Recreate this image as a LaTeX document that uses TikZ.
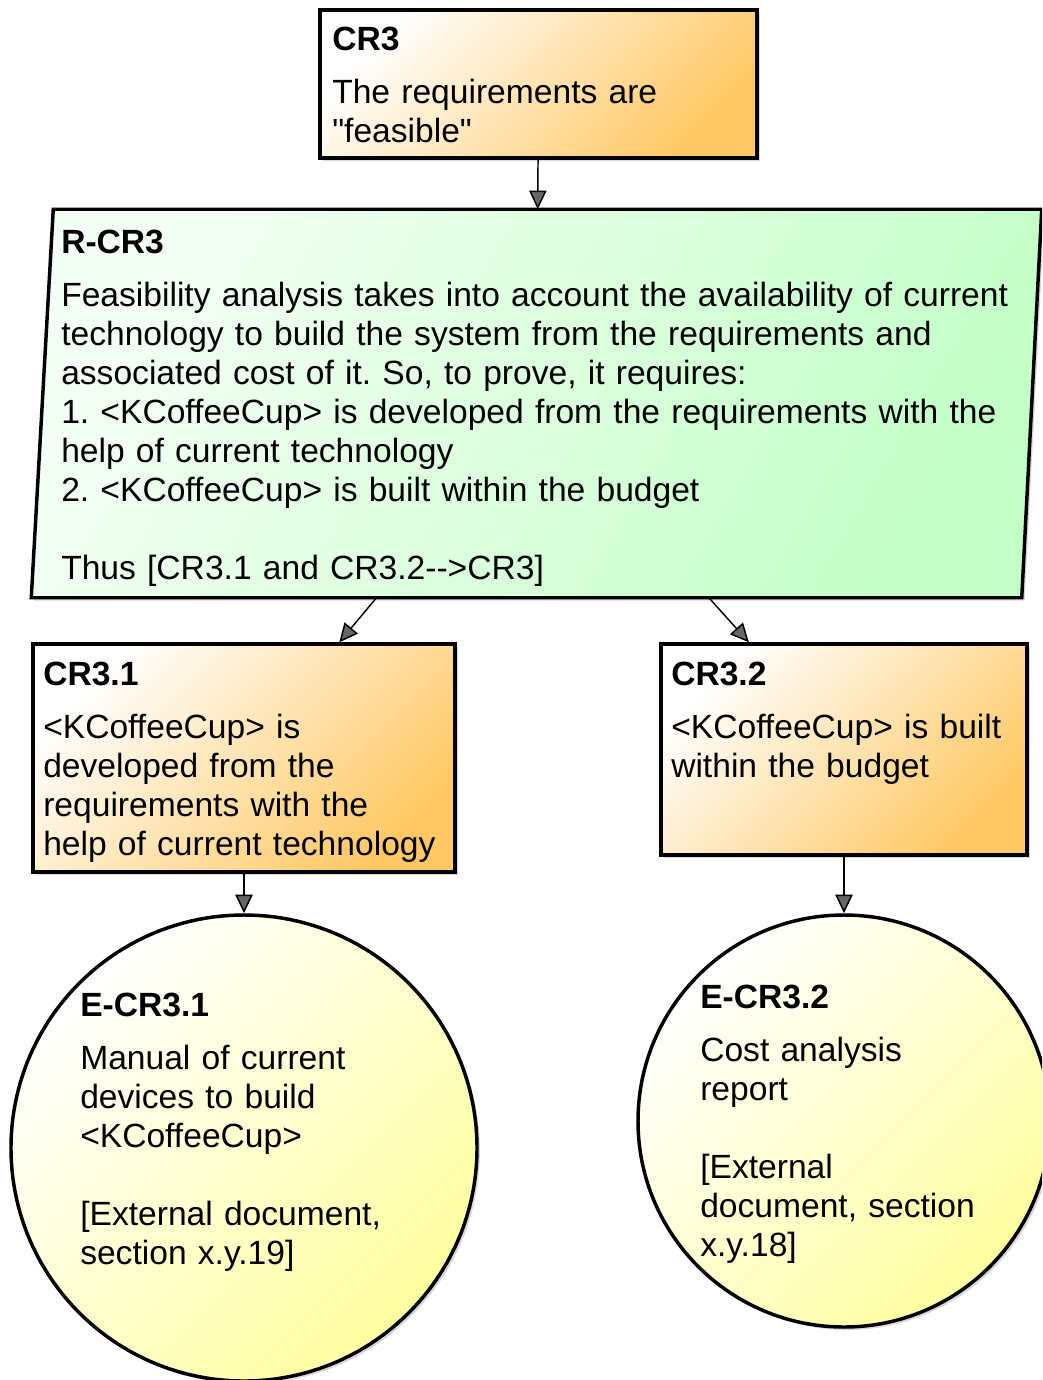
\documentclass[tikz,border=0pt]{standalone}
\usepackage{fontspec}
\setmainfont{Liberation Sans}
\usetikzlibrary{arrows.meta,shadows}
\definecolor{claimorange}{RGB}{255,200,100}
\definecolor{strategygreen}{RGB}{196,255,200}
\definecolor{evidenceyellow}{RGB}{255,255,160}
\tikzset{
	box/.style={draw, line width=2.6pt, inner sep=0pt, drop shadow={shadow xshift=2.2pt, shadow yshift=-2.2pt, fill=black!30}},
	claim/.style={box, rectangle, left color=white, right color=claimorange, shading angle=45},
	evidence/.style={box, circle, left color=white, right color=evidenceyellow, shading angle=45},
	strategy/.style={box, left color=strategygreen!20, right color=strategygreen, shading angle=60},
	label/.style={anchor=base west, inner sep=0pt, text width=760pt, align=left, font=\fontsize{25.2pt}{29.25pt}\selectfont},
	link/.style={line width=1.1pt, -{Triangle[length=14pt, width=13pt, fill=black!60]}}
}
\frenchspacing

\begin{document}
\begin{tikzpicture}[x=0.75pt, y=-0.75pt]
		%%%%% START %%%%%
		\clip (0, 0) rectangle (1042, 1380);
		\useasboundingbox (0, 0) rectangle (1042, 1380);
		
		% claims
		\node[claim, minimum width=327.75pt, minimum height=111pt] (cr3) at (538.5, 84) {};
		\node[claim, minimum width=316.5pt, minimum height=171pt] (cr31) at (244, 758) {};
		\node[claim, minimum width=274.5pt, minimum height=158.25pt] (cr32) at (844, 749.5) {};
		
		% strategy
		\node[minimum width=755.25pt, minimum height=288.75pt, inner sep=0pt, outer sep=1.3pt] (rcr3) at (536.5, 403.5) {};
		\path[strategy] ([xshift=16.5pt]rcr3.north west) -- (rcr3.north east) -- ([xshift=-15pt]rcr3.south east) -- (rcr3.south west) -- cycle;
		
		% evidence
		\node[evidence, minimum size=349.5pt] (ecr31) at (244, 1148) {};
		\node[evidence, minimum size=309pt] (ecr32) at (844, 1121) {};
		
		% texts
		\node[label] (cr3-txt) at (332, 51) {\textbf{CR3}\\[10.5pt]
			The requirements are\\
			\textquotedbl feasible\textquotedbl};
		\node[label] (rcr3-txt) at (61, 253) {\textbf{R-CR3}\\[10.5pt]
			Feasibility analysis takes into account the availability of current\\
			technology to build the system from the requirements and\\
			associated cost of it. So, to prove, it requires:\\
			1. <KCoffeeCup> is developed from the requirements with the\\
			help of current technology\\
			2. <KCoffeeCup> is built within the budget\\[29.25pt]
			Thus [CR3.1 and CR3.2-{}->CR3]};
		\node[label] (cr31-txt) at (43, 685) {\textbf{CR3.1}\\[10.5pt]
			<KCoffeeCup> is\\
			developed from the\\
			requirements with the\\
			help of current technology};
		\node[label] (cr32-txt) at (671, 685) {\textbf{CR3.2}\\[10.5pt]
			<KCoffeeCup> is built\\
			within the budget};
		\node[label] (ecr31-txt) at (80, 1016) {\textbf{E-CR3.1}\\[10.5pt]
			Manual of current\\
			devices to build\\
			<KCoffeeCup>\\[29.25pt]
			[External document,\\
			section x.y.19]};
		\node[label] (ecr32-txt) at (700, 1008) {\textbf{E-CR3.2}\\[10.5pt]
			Cost analysis\\
			report\\[29.25pt]
			[External\\
			document, section\\
			x.y.18]};
		
		% links
		\draw[link] (cr3) -- (rcr3);
		\draw[link] (rcr3) -- (cr31);
		\draw[link] (rcr3) -- (cr32);
		\draw[link] (cr31) -- (ecr31);
		\draw[link] (cr32) -- (ecr32);
		
		%%%%% END %%%%%
	\end{tikzpicture}
\end{document}
